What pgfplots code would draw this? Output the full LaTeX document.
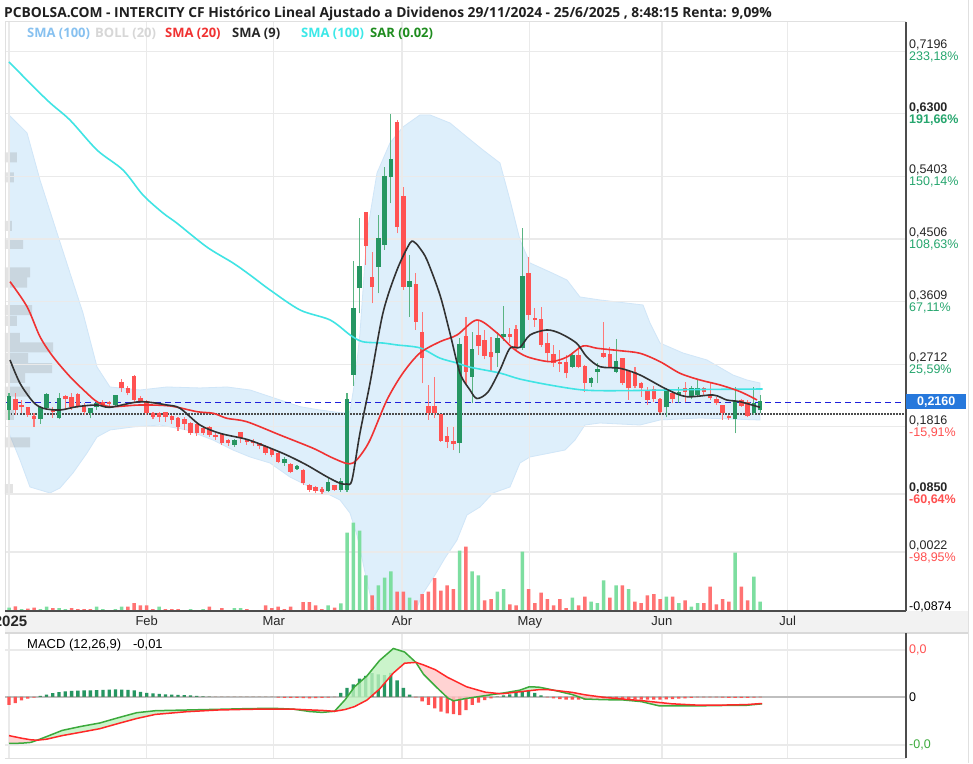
\documentclass[border=0pt]{standalone}
\usepackage{pgfplots}
\usepackage{pgfplotstable}
\pgfplotsset{compat=1.18}
\usepackage{fontspec}
\setmainfont{Liberation Sans}
\newfontfamily\osans{Open Sans}
\definecolor{gridc}{RGB}{234,234,234}
\definecolor{upc}{RGB}{38,150,98}
\definecolor{upw}{RGB}{90,180,130}
\definecolor{dnc}{RGB}{255,82,82}
\definecolor{dnw}{RGB}{255,120,120}
\definecolor{volup}{RGB}{125,222,160}
\definecolor{voldn}{RGB}{255,115,115}
\definecolor{bandc}{RGB}{222,239,251}
\definecolor{bandl}{RGB}{208,230,248}
\definecolor{smacyan}{RGB}{64,228,228}
\definecolor{smared}{RGB}{240,50,50}
\definecolor{smablk}{RGB}{50,50,50}
\definecolor{pctg}{RGB}{38,166,110}
\definecolor{pctr}{RGB}{255,80,80}
\definecolor{macdg}{RGB}{60,170,60}
\definecolor{macdr}{RGB}{255,40,40}
\definecolor{fillg}{RGB}{190,242,190}
\definecolor{fillr}{RGB}{255,200,200}
\definecolor{boxblue}{RGB}{38,120,220}
\definecolor{legblue}{RGB}{135,193,240}
\definecolor{leggray}{RGB}{215,215,215}
\definecolor{legcyan}{RGB}{60,232,232}
\definecolor{leggreen}{RGB}{30,140,30}
\definecolor{refblue}{RGB}{30,30,220}

% candles: index, open, high, low, close
\pgfplotstableread{
i O H L C
0 0.2055 0.2295 0.1912 0.2246
5 0.1922 0.2103 0.1855 0.2080
6 0.2080 0.2295 0.2065 0.2270
8 0.1936 0.2303 0.1922 0.2209
13 0.2008 0.2080 0.1936 0.2065
14 0.2094 0.2174 0.2055 0.2141
17 0.2127 0.2270 0.2113 0.2256
36 0.1554 0.1635 0.1529 0.1611
44 0.1292 0.1377 0.1253 0.1339
46 0.1214 0.1267 0.1196 0.1243
51 0.0895 0.1077 0.0880 0.1005
53 0.0909 0.1077 0.0885 0.1028
54 0.0909 0.2295 0.0885 0.2199
55 0.2557 0.4195 0.2404 0.3503
56 0.3799 0.4802 0.3441 0.4109
59 0.4109 0.4850 0.3728 0.4501
60 0.4420 0.5542 0.4348 0.5390
61 0.5390 0.6297 0.5017 0.5638
64 0.3822 0.4277 0.3392 0.3894
72 0.1587 0.3087 0.1435 0.2987
74 0.2533 0.3177 0.2151 0.2915
78 0.2868 0.3177 0.2676 0.3073
79 0.3106 0.3546 0.3048 0.3130
82 0.2940 0.4659 0.2915 0.3957
90 0.2676 0.2891 0.2653 0.2829
93 0.2447 0.2533 0.2389 0.2495
94 0.2604 0.2725 0.2438 0.2629
97 0.2604 0.3068 0.2581 0.2748
105 0.2094 0.2366 0.1951 0.2342
107 0.2270 0.2381 0.2151 0.2303
109 0.2246 0.2399 0.2209 0.2352
110 0.2270 0.2495 0.2237 0.2352
116 0.1922 0.2381 0.1721 0.2174
119 0.2008 0.2381 0.1984 0.2141
120 0.2055 0.2270 0.2008 0.2166
}\upcandles

\pgfplotstableread{
i O H L C
1 0.2199 0.2299 0.1984 0.2055
2 0.2117 0.2199 0.2012 0.2098
3 0.2080 0.2084 0.1955 0.1984
4 0.1951 0.2012 0.1816 0.1922
7 0.2045 0.2103 0.1941 0.2022
9 0.2237 0.2270 0.2055 0.2209
10 0.2223 0.2295 0.2055 0.2103
11 0.2270 0.2295 0.2080 0.2113
12 0.2103 0.2160 0.1984 0.2031
15 0.2151 0.2199 0.2103 0.2123
16 0.2160 0.2189 0.2080 0.2141
18 0.2447 0.2495 0.2318 0.2366
19 0.2356 0.2399 0.2270 0.2303
20 0.2524 0.2557 0.2174 0.2199
21 0.2209 0.2256 0.2151 0.2174
22 0.2174 0.2199 0.1984 0.2008
23 0.1998 0.2031 0.1922 0.1959
24 0.1994 0.2031 0.1888 0.1959
25 0.2017 0.2031 0.1888 0.1951
26 0.1951 0.1984 0.1855 0.1912
27 0.1922 0.1951 0.1759 0.1816
28 0.1912 0.1955 0.1769 0.1855
29 0.1850 0.1888 0.1697 0.1721
30 0.1840 0.1869 0.1683 0.1721
31 0.1779 0.1816 0.1697 0.1721
32 0.1793 0.1826 0.1673 0.1697
33 0.1683 0.1726 0.1625 0.1664
34 0.1693 0.1721 0.1554 0.1578
35 0.1607 0.1635 0.1539 0.1578
37 0.1721 0.1744 0.1587 0.1650
38 0.1611 0.1644 0.1554 0.1592
39 0.1601 0.1635 0.1539 0.1582
40 0.1568 0.1587 0.1492 0.1539
41 0.1529 0.1554 0.1410 0.1443
42 0.1482 0.1506 0.1377 0.1410
43 0.1425 0.1458 0.1292 0.1314
45 0.1267 0.1292 0.1148 0.1171
47 0.1185 0.1206 0.0981 0.1005
48 0.0966 0.0991 0.0885 0.0909
49 0.0933 0.0966 0.0870 0.0899
50 0.0909 0.0948 0.0850 0.0885
52 0.0966 0.0981 0.0895 0.0909
57 0.4874 0.4893 0.4133 0.4405
58 0.3943 0.4324 0.3584 0.3814
62 0.6172 0.6211 0.4587 0.4682
63 0.5112 0.5255 0.3775 0.3822
65 0.3847 0.4023 0.3202 0.3321
66 0.3163 0.3464 0.2438 0.2796
67 0.2103 0.2414 0.1912 0.2008
68 0.2094 0.2533 0.1936 0.2008
69 0.1984 0.1998 0.1597 0.1615
70 0.1664 0.1816 0.1506 0.1601
71 0.1592 0.1816 0.1482 0.1568
73 0.3106 0.3392 0.2414 0.2600
75 0.3116 0.3345 0.2844 0.2972
76 0.3048 0.3202 0.2782 0.2829
77 0.2876 0.3106 0.2604 0.2811
80 0.3130 0.3230 0.3015 0.3106
81 0.3202 0.3273 0.2915 0.2940
83 0.4004 0.4252 0.3345 0.3417
84 0.3364 0.3517 0.3249 0.3345
85 0.3345 0.3527 0.2962 0.2987
86 0.3001 0.3163 0.2748 0.2868
87 0.2844 0.2987 0.2676 0.2725
88 0.2733 0.2915 0.2604 0.2715
89 0.2725 0.2844 0.2510 0.2581
91 0.2829 0.2962 0.2653 0.2676
92 0.2676 0.2700 0.2318 0.2447
95 0.2858 0.3321 0.2796 0.2819
96 0.2844 0.2962 0.2653 0.2676
98 0.2782 0.2796 0.2414 0.2438
99 0.2604 0.2629 0.2199 0.2366
100 0.2590 0.2676 0.2366 0.2399
101 0.2428 0.2461 0.2246 0.2366
102 0.2318 0.2389 0.2127 0.2199
103 0.2342 0.2399 0.2174 0.2209
104 0.2199 0.2223 0.2008 0.2031
106 0.2285 0.2332 0.2151 0.2209
108 0.2352 0.2461 0.2174 0.2318
111 0.2352 0.2381 0.2270 0.2318
112 0.2270 0.2438 0.2199 0.2223
113 0.2199 0.2246 0.2127 0.2160
114 0.2113 0.2113 0.1912 0.2017
115 0.1951 0.1984 0.1912 0.1936
117 0.2189 0.2209 0.2103 0.2113
118 0.2160 0.2199 0.1951 0.1969
}\dncandles

% volume (relative units)
\pgfplotstableread{
i h
0 10
2 6
5 6
6 13
8 9
9 6
14 13
15 6
17 6
18 13
24 13
29 6
31 6
36 9
37 9
51 17
53 23
54 235
55 265
56 241
57 107
59 77
60 100
61 119
64 40
72 181
74 119
75 107
78 58
79 66
82 178
90 40
93 28
94 24
95 92
97 77
99 66
105 43
107 24
109 13
110 24
116 175
119 103
120 28
}\volup

\pgfplotstableread{
i h
1 14
3 7
4 10
7 9
10 9
11 6
12 6
13 6
19 13
20 24
21 17
22 17
23 6
25 6
26 6
27 6
32 13
34 9
38 6
41 17
42 9
43 13
44 6
45 13
47 27
48 27
49 17
50 6
52 10
58 47
62 58
63 58
65 32
66 51
67 58
68 99
69 61
70 77
71 66
73 193
76 32
77 36
80 20
81 17
83 66
84 24
85 55
86 36
87 17
88 36
89 9
91 17
92 43
96 40
98 77
100 28
101 24
102 47
103 51
104 36
106 43
108 32
111 24
112 73
113 20
114 36
115 28
117 73
118 32
}\voldn

\pgfplotstableread{
i v
0 0.7042
6.07 0.6497
9.74 0.6210
14.06 0.5780
18.21 0.5494
21.4 0.5136
24.6 0.4878
26.8 0.4734
31.6 0.4391
35.8 0.4161
38.5 0.3990
41.7 0.3775
46.5 0.3488
51.3 0.3345
54.5 0.3130
56.5 0.3034
59.7 0.3015
62 0.2987
65.7 0.2944
68.8 0.2800
71.6 0.2728
73.6 0.2670
78.4 0.2585
81.6 0.2499
86.4 0.2413
91.7 0.2342
97.6 0.2332
110.4 0.2349
120.4 0.2356
}\smahundred

\pgfplotstableread{
i v
0.16 0.3894
2.88 0.3536
4.95 0.3106
7.03 0.2819
9.74 0.2533
12.46 0.2295
14.06 0.2174
16.13 0.2103
20.93 0.2127
25.72 0.2113
30.03 0.2031
32.64 0.2008
34.82 0.1936
37.97 0.1888
43.29 0.1697
48.61 0.1506
51.28 0.1386
53.79 0.1292
54.95 0.1296
56.07 0.1396
57.67 0.1625
60.38 0.2199
62.94 0.2586
65.65 0.2872
68.85 0.3034
71.57 0.3130
74.76 0.3345
77.96 0.3159
80.51 0.2940
82.75 0.2819
86.42 0.2748
89.14 0.2815
91.69 0.2972
93.93 0.2940
97.6 0.2905
100.8 0.2868
104 0.2748
107.2 0.2581
110.4 0.2485
113.6 0.2414
116.8 0.2318
119.5 0.2199
}\smatwenty

\pgfplotstableread{
i v
0.16 0.2772
1.76 0.2438
3.83 0.2174
5.43 0.2080
8.15 0.2055
10.86 0.2103
14.06 0.2127
16.13 0.2094
20.93 0.2174
25.24 0.2127
27.32 0.2080
30.51 0.1840
33.71 0.1721
37.97 0.1635
41.17 0.1529
44.36 0.1410
47.56 0.1267
50.75 0.1100
52.88 0.1005
53.95 0.0995
54.79 0.1052
56.07 0.1726
57.67 0.2438
59.74 0.3445
61.98 0.4061
64.06 0.4448
64.86 0.4453
65.65 0.4372
66.77 0.4205
68.85 0.3703
70.45 0.3154
72.04 0.2586
73.64 0.2342
74.76 0.2220
76.52 0.2313
78.43 0.2629
80.03 0.2940
81.63 0.2954
83.23 0.3130
85.89 0.3202
88.02 0.3154
90.69 0.3011
92.28 0.2819
94.41 0.2676
97.6 0.2653
100.8 0.2557
105.06 0.2352
108.26 0.2246
112.5 0.2270
114.65 0.2199
116.77 0.2174
119.97 0.2094
}\smanine

% Bollinger band outline: upper band left to right, then lower band right to left
\pgfplotstableread{
i v
0 0.6283
2.88 0.6025
4.95 0.5351
7.67 0.4592
9.74 0.4019
11.82 0.3445
14.06 0.2672
16.13 0.2385
20.93 0.2342
25.24 0.2385
30.51 0.2371
34.82 0.2385
38.5 0.2342
43.29 0.2199
46.49 0.2103
49.68 0.2055
53.35 0.2012
54.47 0.2031
55.27 0.2485
56.07 0.3159
57.19 0.4592
58.79 0.5452
60.86 0.5881
62.94 0.6111
65.65 0.6283
67.25 0.6283
70.45 0.6168
73.16 0.5967
75.72 0.5781
78.43 0.5595
80.03 0.5064
81.63 0.4491
83.23 0.4162
86.42 0.4033
89.14 0.3918
91.21 0.3675
94.41 0.3632
101.28 0.3560
102.4 0.3302
104.0 0.3015
107.67 0.2872
111.5 0.2772
115.65 0.2557
117.89 0.2485
119.97 0.2442
119.97 0.1912
110.38 0.1941
104.0 0.1912
100.8 0.1840
94.41 0.1869
92.01 0.1840
90.42 0.1625
88.82 0.1482
86.42 0.1439
83.23 0.1382
81.63 0.1296
80.03 0.0952
77.32 0.0866
75.24 0.0665
73.16 0.0551
71.57 0.0192
69.65 -0.0066
68.05 -0.0309
65.97 -0.0596
65.02 -0.0811
64.06 -0.0983
61.66 -0.1097
59.27 -0.0983
57.99 -0.0696
57.19 -0.0409
56.39 -0.0066
55.59 0.0264
54.47 0.0579
52.88 0.0766
51.28 0.0837
48.08 0.0952
44.89 0.1095
41.69 0.1296
38.5 0.1382
35.78 0.1482
32.59 0.1625
28.43 0.1769
24.12 0.1840
19.81 0.1812
16.13 0.1769
14.06 0.1668
12.46 0.1439
10.22 0.1153
8.15 0.0938
6.55 0.0866
3.35 0.0952
1.76 0.1339
0 0.1726
}\band

% volume-at-price profile: price level, bar length in px
\pgfplotstableread{
v len
0.5674 12
0.5387 9
0.4692 7
0.4434 18
0.4026 25
0.3882 22
0.3488 27
0.3331 12
0.3087 15
0.2951 48
0.2800 23
0.2657 47
0.2514 20
0.2320 25
0.1984 9
0.1590 25
0.0923 8
}\profile

% MACD line (m) and signal (s)
\pgfplotstableread{
i m s
0 -46.4 -38.6
2 -46.2 -41.2
3.5 -45.4 -42.8
4.5 -43.2 -43.2
6 -39.6 -42.2
8.5 -33.4 -38.6
11.5 -29.4 -35.2
14.5 -26.0 -31.7
17.4 -20.8 -26.6
20.4 -15.7 -21.5
23.4 -13.7 -17.4
28.4 -13.0 -14.7
33.4 -12.3 -13.0
38.3 -11.6 -12.3
42.3 -11.3 -12.0
45.5 -12.2 -12.2
48 -14.5 -12.9
50 -15.4 -13.4
52 -14.3 -14.3
53.7 -2.7 -12.5
55.2 10.2 -9.6
57.2 21.2 -3.0
59.2 36.5 8.0
61.4 48.5 24.0
63.2 45.0 33.8
65 34.6 34.6
66.2 22.9 32.1
68.1 10.9 27.3
70.1 -1.0 19.5
71 -3.8 16.8
73.1 -1.4 10.2
76.1 1.4 4.8
78.3 3.4 3.4
79.1 4.1 3.5
81.6 6.8 5.2
83.1 10.2 6.3
84.6 9.9 7.3
86 8.2 7.4
87 6.8 6.8
90 2.4 4.6
92 -2.0 2.2
95 -2.7 -0.3
98 -2.9 -2.0
101 -4.6 -3.6
103.9 -8.9 -5.5
105.9 -8.9 -6.8
109.9 -8.9 -8.1
113.9 -8.5 -8.1
117.8 -8.3 -7.6
120.3 -6.8 -6.5
}\macd

\pgfplotstableread{
i h
0 -7.8
1 -6
2 -3.4
3 -1.6
4 -0.6
5 1.2
6 2.4
7 3.8
8 4.8
9 5.6
10 6.0
11 6.3
12 6.5
13 6.7
14 6.9
15 7.1
16 7.3
17 7.5
18 7.3
19 7.0
20 6.6
21 5.2
22 4.2
23 3.6
24 3.1
25 2.7
26 2.4
27 2.1
28 1.9
29 1.7
30 1.0
31 0.6
32 0.3
33 0.2
34 0.2
35 0.2
36 0.2
37 0.2
38 0.2
39 0.2
40 0.2
41 0.2
42 0.2
43 -0.6
44 -0.8
45 -0.8
46 -1.0
47 -1.2
48 -1.3
49 -1.2
50 -1.0
51 -0.6
52 -0.2
53 4.0
54 9.0
55 12.6
56 18.4
57 21.2
58 23.9
59 22.5
60 21.8
61 24.0
62 16.5
63 9.2
64 2.4
65 -0.5
66 -4.4
67 -7.8
68 -11.3
69 -14.7
70 -16.4
71 -17.2
72 -18.0
73 -13.0
74 -7.8
75 -5.5
76 -3.0
77 -1.5
78 0.3
79 1.5
80 2.5
81 4.0
82 4.8
83 5.8
84 4.1
85 1.7
86 -0.5
87 -1.5
88 -2.2
89 -2.5
90 -2.7
91 -2.7
92 -2.7
93 -2.6
94 -2.5
95 -2.4
96 -2.3
97 -2.2
98 -2.2
99 -2.2
100 -2.3
101 -2.5
102 -2.7
103 -2.7
104 -2.5
105 -2.3
106 -2.0
107 -1.7
108 -1.5
109 -0.8
110 -0.5
111 -0.3
112 -0.3
113 -0.3
114 -0.6
115 -0.8
116 -0.9
117 -0.9
118 -0.8
119 -0.6
120 -0.3
}\hist

\begin{document}
\begin{tikzpicture}
\useasboundingbox (0pt,0pt) rectangle (973pt,763pt);
\fill[white] (0pt,0pt) rectangle (973pt,763pt);
\fill[black!5] (5pt,130pt) rectangle (968pt,152pt);

% ---------- Bollinger band (bottom layer) ----------
\begin{axis}[at={(5pt,152pt)}, anchor=south west, width=901pt, height=589pt, scale only axis,
  xmin=-0.64, xmax=143.3, ymin=-0.0825, ymax=0.7615, hide axis]
\addplot[fill=bandc, draw=bandl, line width=0.8pt] table[x=i,y=v] \band;
\end{axis}

% ---------- volume profile on the left ----------
\begin{axis}[at={(5pt,152pt)}, anchor=south west, width=901pt, height=589pt, scale only axis,
  xmin=0, xmax=901, ymin=-0.0825, ymax=0.7615, hide axis]
\addplot[xbar, bar width=10pt, bar shift=0pt, fill=gray, fill opacity=0.22, draw=none] table[x=len,y=v] \profile;
\end{axis}

% ---------- main price panel ----------
\begin{axis}[at={(5pt,152pt)}, anchor=south west, width=901pt, height=589pt, scale only axis,
  xmin=-0.64, xmax=143.3, ymin=-0.0825, ymax=0.7615,
  axis line style={draw=none},
  xtick={0,22,42.3,62.8,83.2,104.3,124.4},
  xticklabels={\hspace*{3pt}\textbf{\fontsize{15}{15}\selectfont 2025},Feb,Mar,Abr,May,Jun,Jul},
  ytick={0.7196,0.63,0.5403,0.4506,0.3609,0.2712,0.1816,0.0850,0.0022},
  yticklabels={{0,7196\\\textcolor{pctg}{233,18\%}},
               {\textbf{0,6300}\\\textcolor{pctg}{\textbf{191,66\%}}},
               {0,5403\\\textcolor{pctg}{150,14\%}},
               {0,4506\\\textcolor{pctg}{108,63\%}},
               {0,3609\\\textcolor{pctg}{67,11\%}},
               {0,2712\\\textcolor{pctg}{25,59\%}},
               {0,1816\\\textcolor{pctr}{-15,91\%}},
               {\textbf{0,0850}\\\textcolor{pctr}{\textbf{-60,64\%}}},
               {0,0022\\\textcolor{pctr}{-98,95\%}}},
  yticklabel pos=right,
  xmajorgrids, ymajorgrids,
  grid style={gridc, line width=1.3pt},
  major tick length=0pt,
  yticklabel style={align=left, anchor=west, inner sep=0pt, xshift=3pt,
     font=\fontsize{12.5}{12}\selectfont, text=black!85},
  xticklabel style={font=\fontsize{13}{13}\selectfont, inner sep=0pt, yshift=-5pt, text=black!85},
]
% reference lines
\addplot[refblue, line width=1.2pt, dash pattern=on 6pt off 4pt] coordinates {(-0.64,0.2160) (143.3,0.2160)};
\addplot[black!70, line width=1.2pt, dash pattern=on 1.5pt off 1.5pt] coordinates {(-0.64,0.1998) (143.3,0.1998)};
% candles: wicks (low to high)
\addplot[upw, mark=none, forget plot,
  quiver={u=0, v=\thisrow{H}-\thisrow{L}, every arrow/.append style={-, line width=1.1pt}}]
  table[x=i, y=L] \upcandles;
\addplot[dnw, mark=none, forget plot,
  quiver={u=0, v=\thisrow{H}-\thisrow{L}, every arrow/.append style={-, line width=1.1pt}}]
  table[x=i, y=L] \dncandles;
% candles: bodies (open to close)
\addplot[upc, mark=none, forget plot,
  quiver={u=0, v=\thisrow{C}-\thisrow{O}+0.0012, every arrow/.append style={-, line width=4.5pt}}]
  table[x=i, y=O] \upcandles;
\addplot[dnc, mark=none, forget plot,
  quiver={u=0, v=\thisrow{O}-\thisrow{C}+0.0012, every arrow/.append style={-, line width=4.5pt}}]
  table[x=i, y=C] \dncandles;
% moving averages
\addplot[smacyan, line width=1.6pt, smooth] table[x=i,y=v] \smahundred;
\addplot[smared, line width=1.6pt, smooth] table[x=i,y=v] \smatwenty;
\addplot[smablk, line width=1.6pt, smooth] table[x=i,y=v] \smanine;
\end{axis}

% ---------- volume (on top of the grid) ----------
\begin{axis}[at={(5pt,152pt)}, anchor=south west, width=901pt, height=589pt, scale only axis,
  xmin=-0.64, xmax=143.3, ymin=0, ymax=1767, hide axis]
\addplot[ybar, bar width=3.5pt, bar shift=0pt, fill=volup, draw=none] table[x=i,y=h] \volup;
\addplot[ybar, bar width=3.5pt, bar shift=0pt, fill=voldn, draw=none] table[x=i,y=h] \voldn;
\end{axis}

% ---------- MACD panel ----------
\begin{axis}[at={(5pt,5pt)}, anchor=south west, width=901pt, height=124pt, scale only axis,
  xmin=-0.64, xmax=143.3, ymin=-61, ymax=63,
  axis line style={draw=none},
  xtick={0,22,42.3,62.8,83.2,104.3,124.4}, xticklabels={},
  ytick={47,0,-48},
  yticklabels={{\textcolor{pctr}{0,0}},{0},{\textcolor{macdg}{-0,0}}},
  yticklabel pos=right,
  xmajorgrids, ymajorgrids,
  grid style={gridc, line width=1.3pt},
  major tick length=0pt,
  yticklabel style={anchor=west, inner sep=0pt, xshift=3pt, font=\fontsize{12.5}{12}\selectfont},
]
\addplot[black!25, line width=1.5pt] coordinates {(-0.64,0) (143.3,0)};
\addplot[ybar, bar width=3.3pt, bar shift=0pt, fill=upc, draw=none] table[x=i, y expr={max(\thisrow{h},0)}] \hist;
\addplot[ybar, bar width=3.3pt, bar shift=0pt, fill=dnc, draw=none] table[x=i, y expr={min(\thisrow{h},0)}] \hist;
% areas between MACD and signal (MACD forward, signal back)
\addplot[fill=fillr, fill opacity=0.8, draw=none] coordinates {(0,-46.4) (2,-46.2) (3.5,-45.4) (4.5,-43.2) (3.5,-42.8) (2,-41.2) (0,-38.6)};
\addplot[fill=fillg, fill opacity=0.8, draw=none] coordinates {(4.5,-43.2) (6,-39.6) (8.5,-33.4) (11.5,-29.4) (14.5,-26.0) (17.4,-20.8) (20.4,-15.7) (23.4,-13.7) (28.4,-13.0) (33.4,-12.3) (38.3,-11.6) (42.3,-11.3) (45.5,-12.2) (42.3,-12.0) (38.3,-12.3) (33.4,-13.0) (28.4,-14.7) (23.4,-17.4) (20.4,-21.5) (17.4,-26.6) (14.5,-31.7) (11.5,-35.2) (8.5,-38.6) (6,-42.2)};
\addplot[fill=fillr, fill opacity=0.8, draw=none] coordinates {(45.5,-12.2) (48,-14.5) (50,-15.4) (52,-14.3) (50,-13.4) (48,-12.9)};
\addplot[fill=fillg, fill opacity=0.8, draw=none] coordinates {(52,-14.3) (53.7,-2.7) (55.2,10.2) (57.2,21.2) (59.2,36.5) (61.4,48.5) (63.2,45.0) (65,34.6) (63.2,33.8) (61.4,24.0) (59.2,8.0) (57.2,-3.0) (55.2,-9.6) (53.7,-12.5)};
\addplot[fill=fillr, fill opacity=0.8, draw=none] coordinates {(65,34.6) (66.2,22.9) (68.1,10.9) (70.1,-1.0) (71,-3.8) (73.1,-1.4) (76.1,1.4) (78.3,3.4) (76.1,4.8) (73.1,10.2) (71,16.8) (70.1,19.5) (68.1,27.3) (66.2,32.1)};
\addplot[fill=fillg, fill opacity=0.8, draw=none] coordinates {(78.3,3.4) (79.1,4.1) (81.6,6.8) (83.1,10.2) (84.6,9.9) (86,8.2) (87,6.8) (86,7.4) (84.6,7.3) (83.1,6.3) (81.6,5.2) (79.1,3.5)};
\addplot[fill=fillr, fill opacity=0.8, draw=none] coordinates {(87,6.8) (90,2.4) (92,-2.0) (95,-2.7) (98,-2.9) (101,-4.6) (103.9,-8.9) (105.9,-8.9) (109.9,-8.9) (113.9,-8.5) (117.8,-8.3) (120.3,-6.8) (120.3,-6.5) (117.8,-7.6) (113.9,-8.1) (109.9,-8.1) (105.9,-6.8) (103.9,-5.5) (101,-3.6) (98,-2.0) (95,-0.3) (92,2.2) (90,4.6)};
\addplot[macdg, line width=1.5pt] table[x=i,y=m] \macd;
\addplot[macdr, line width=1.5pt] table[x=i,y=s] \macd;
\end{axis}

% ---------- frames ----------
\draw[black!12, line width=1pt] (5pt,741pt) -- (906pt,741pt);
\draw[black!12, line width=1pt] (5pt,741pt) -- (5pt,152pt);
\draw[black!70, line width=1.2pt] (5pt,152pt) -- (906pt,152pt);
\draw[black!70, line width=1.2pt] (906pt,741pt) -- (906pt,152pt);
\draw[black!15, line width=2pt] (5pt,130pt) -- (968pt,130pt);
\draw[black!12, line width=1pt] (5pt,5pt) -- (906pt,5pt);
\draw[black!70, line width=1.2pt] (906pt,130pt) -- (906pt,5pt);
\draw[black!12, line width=1pt] (968pt,0pt) -- (968pt,763pt);

% ---------- texts ----------
\node[anchor=west, inner sep=0pt, text=black!88] at (4pt,749pt)
  {\osans\bfseries\fontsize{13.8}{15}\selectfont PCBOLSA.COM - INTERCITY CF Histórico Lineal Ajustado a Dividenos 29/11/2024 - 25/6/2025 , 8:48:15 Renta: 9,09\%};
\begin{scope}[every node/.style={anchor=west, inner sep=0pt, font=\osans\bfseries\fontsize{13}{14}\selectfont}]
\node[text=legblue] at (27pt,729pt) {SMA (100)};
\node[text=leggray] at (95pt,729pt) {BOLL (20)};
\node[text=smared] at (165pt,729pt) {SMA (20)};
\node[text=black!85] at (232pt,729pt) {SMA (9)};
\node[text=legcyan] at (301pt,729pt) {SMA (100)};
\node[text=leggreen] at (370pt,729pt) {SAR (0.02)};
\end{scope}
\node[anchor=west, inner sep=0pt, font=\fontsize{12.5}{12}\selectfont] at (909pt,156pt) {-0,0874};
\node[anchor=west, fill=boxblue, text=white, minimum height=15pt, minimum width=60pt, inner xsep=4pt, inner ysep=0pt,
  font=\bfseries\fontsize{12.5}{12}\selectfont, align=left] at (906pt,361pt) {0,2160};
\node[anchor=west, inner sep=0pt, font=\fontsize{13}{13}\selectfont] at (27pt,118pt) {MACD (12,26,9)\hspace{12pt}-0,01};
\end{tikzpicture}
\end{document}
